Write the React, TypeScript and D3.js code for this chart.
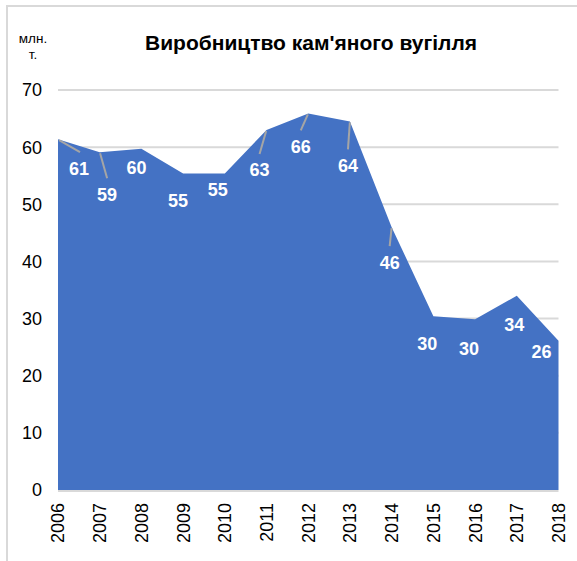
import React from "react";
import * as d3 from "d3";

const years = ["2006","2007","2008","2009","2010","2011","2012","2013","2014","2015","2016","2017","2018"];
const production = [61.4, 59.1, 59.7, 55.4, 55.4, 63.0, 65.9, 64.5, 46.0, 30.4, 29.9, 34.0, 26.1];
const labels = ["61","59","60","55","55","63","66","64","46","30","30","34","26"];
const yTicks = [0, 10, 20, 30, 40, 50, 60, 70];
const title = "Виробництво кам'яного вугілля";
const unitLines = ["млн.", "т."];

// layout offsets for data labels (dx, dy from point) and whether a leader line is drawn
const labelOffsets: [number, number, boolean][] = [
  [21, 29, true], [7.4, 42, true], [-5, 19, false], [-5, 27, false], [-7, 16, false],
  [-7, 40, true], [-7.5, 33, true], [-2, 44, true], [-2, 35, true], [-6, 27, false],
  [-6, 29, false], [-2.5, 29, false], [-17, 11, false],
];

const W = 577, H = 561;
const font = "'Liberation Sans', Arial, sans-serif";

export default function App() {
  const x = d3.scalePoint<string>().domain(years).range([58, 558.5]);
  const y = d3.scaleLinear().domain([0, 70]).range([490, 90]);
  const area = d3.area<number>()
    .x((_, i) => x(years[i])!)
    .y0(y(0))
    .y1(d => y(d));

  return (
    <svg width={W} height={H} style={{ position: "absolute", left: 0, top: 0, background: "#fff" }}>
      <rect x={7} y={6} width={W + 20} height={H + 20} fill="#fff" stroke="#d9d9d9" strokeWidth={2} />
      <text x={311} y={50} textAnchor="middle" fontFamily={font} fontWeight="bold" fontSize={21} fill="#000">{title}</text>
      {unitLines.map((t, i) => (
        <text key={t} x={33} y={43 + i * 16} textAnchor="middle" fontFamily={font} fontSize={13.5} fill="#000">{t}</text>
      ))}
      {yTicks.filter(t => t > 0).map(t => (
        <line key={t} x1={58} x2={558.5} y1={y(t)} y2={y(t)} stroke="#d9d9d9" strokeWidth={2} />
      ))}
      {yTicks.map(t => (
        <text key={"l" + t} x={42} y={y(t)} dy="0.36em" textAnchor="end" fontFamily={font} fontSize={18} fill="#000">{t}</text>
      ))}
      <path d={area(production)!} fill="#4472c4" />
      <line x1={58} x2={558.5} y1={y(0) + 1} y2={y(0) + 1} stroke="#d9d9d9" strokeWidth={2} />
      {years.map(yr => (
        <text key={yr} transform={`translate(${x(yr)},503) rotate(-90)`} dy="0.36em" textAnchor="end" fontFamily={font} fontSize={18} fill="#000">{yr}</text>
      ))}
      {production.map((v, i) => {
        const px = x(years[i])!, py = y(v);
        const [dx, dy, lead] = labelOffsets[i];
        const lx = px + dx, ly = py + dy;
        return (
          <g key={i}>
            {lead && (
              <line x1={px + dx * 0.05} y1={py + 1} x2={lx + (dx > 15 ? 1 : 0)} y2={ly - 16} stroke="#a5a5a5" strokeWidth={2} />
            )}
            <text x={lx} y={ly} dy="0.36em" textAnchor="middle" fontFamily={font} fontWeight="bold" fontSize={18} fill="#fff">{labels[i]}</text>
          </g>
        );
      })}
    </svg>
  );
}
